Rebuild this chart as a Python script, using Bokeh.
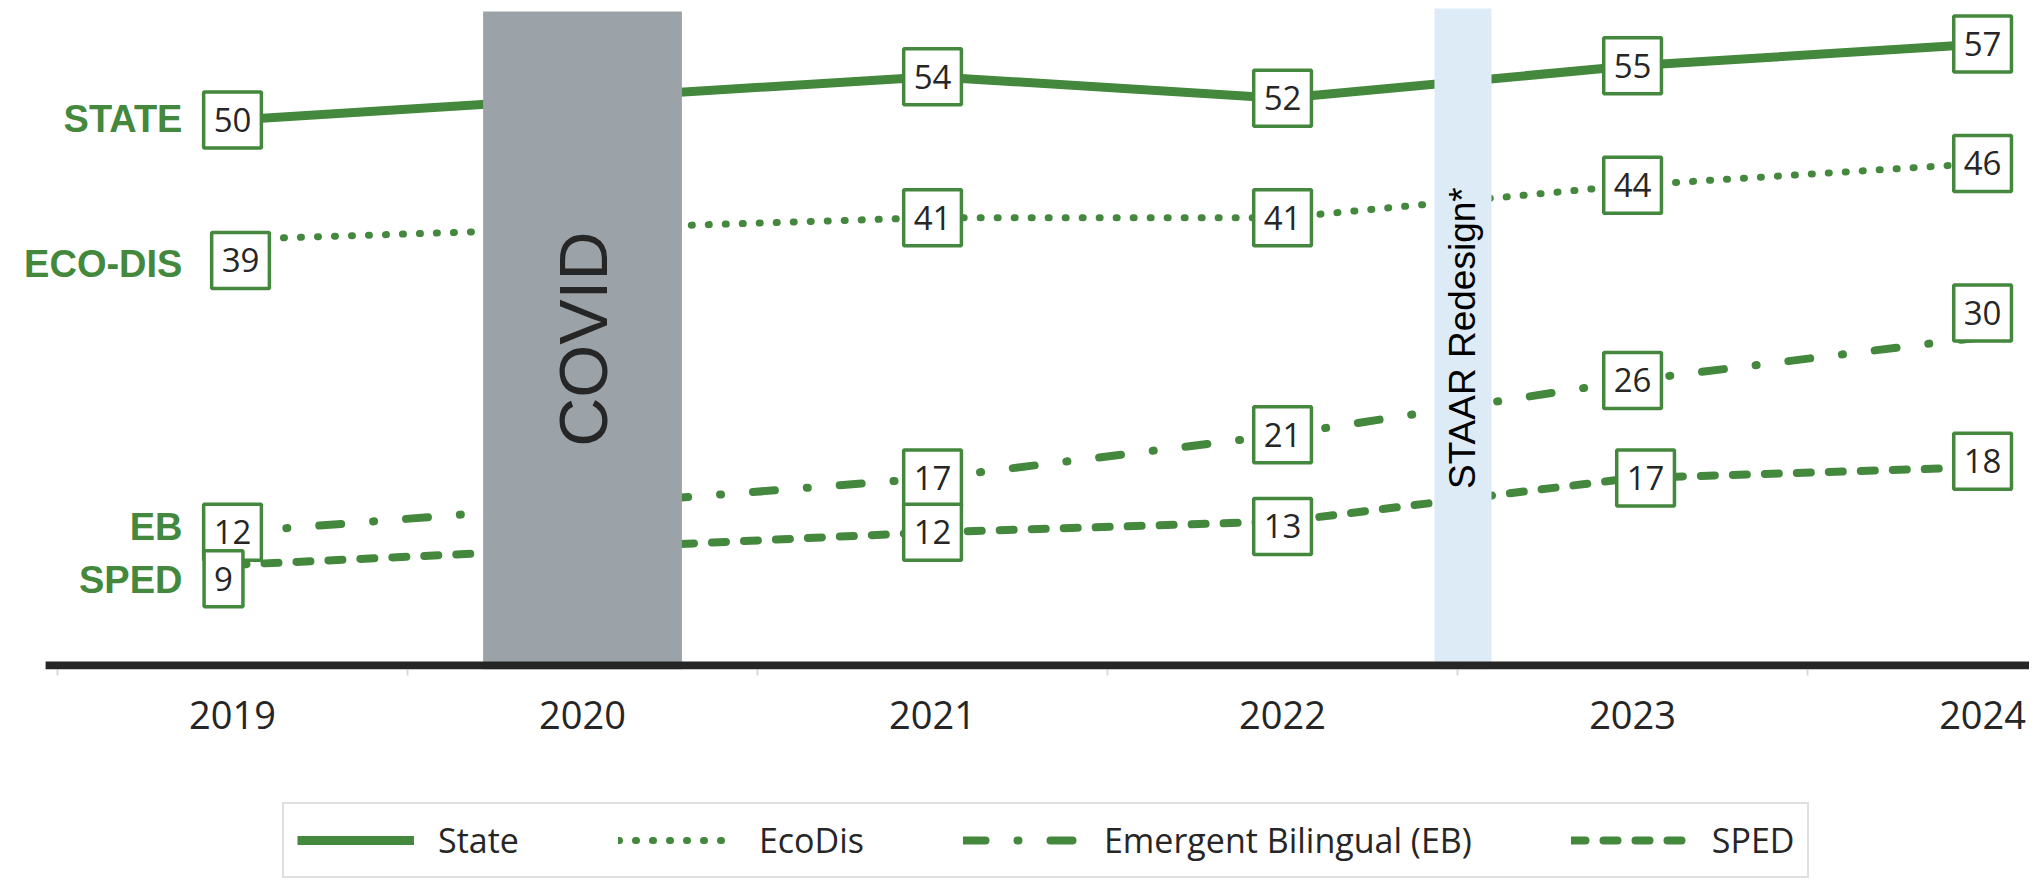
import math
from bokeh.plotting import figure
from bokeh.layouts import column
from bokeh.models import (Range1d, FixedTicker, BoxAnnotation, Legend, LegendItem, Label)
from bokeh.core.properties import value
from bokeh.embed import file_html
from bokeh.resources import INLINE

# ---------------- data ----------------
tick_years = [2019, 2020, 2021, 2022, 2023, 2024]
years = [2019, 2021, 2022, 2023, 2024]          # no 2020 data (COVID)
state = [50, 54, 52, 55, 57]
ecodis = [39, 41, 41, 44, 46]
eb = [12, 17, 21, 26, 30]
sped = [9, 12, 13, 17, 18]
series_names = ["State", "EcoDis", "Emergent Bilingual (EB)", "SPED"]
side_labels = ["STATE", "ECO-DIS", "EB", "SPED"]
event_names = ["COVID", "STAAR Redesign*"]
event_left = [2019.716, 2022.434]
event_right = [2020.284, 2022.597]

# ---------------- styling / placement ----------------
GREEN = "#43883D"
DARK = "#262626"
X0, X1 = 2018.36, 2024.134
Y0, Y1 = -0.645, 60.28
# pixel nudges for the value boxes (x, y; +y = down)
state_dx, state_dy = [0, 0, 0, 0, 0], [0, 0, 0, 0, 0]
eco_dx, eco_dy = [8, 0, 0, 0, 0], [21, 0, 0, 0, 0]
eb_dx, eb_dy = [0, 0, 0, 0, 0], [0, 0, 0, 0, -24]
sped_dx, sped_dy = [-9, 0, 0, 13, 0], [14, 0, 5, 0, -6]
side_label_x = 2018.857
side_label_y = [50.05, 36.7, 12.5, 7.6]

p = figure(width=2029, height=769,
           x_range=Range1d(X0, X1), y_range=Range1d(Y0, Y1),
           output_backend="svg", toolbar_location=None,
           y_axis_location=None,
           min_border_left=8, min_border_right=0,
           min_border_top=8, min_border_bottom=100)
p.outline_line_color = None
p.grid.visible = False

line_styles = [dict(line_width=9),
               dict(line_width=7, line_dash="1 16", line_cap="round"),
               dict(line_width=8, line_dash="22 32 1 32", line_cap="round"),
               dict(line_width=8, line_dash="14 18", line_cap="round")]
series = [state, ecodis, eb, sped]

# series lines
for vals, st in zip(series, line_styles):
    p.line(years, vals, line_color=GREEN, **st)

# event bands (drawn over the lines)
p.quad(left=[event_left[0]], right=[event_right[0]], bottom=[Y0], top=[60.0],
       fill_color="#9BA2A8", line_color=None)
p.quad(left=[event_left[1]], right=[event_right[1]], bottom=[Y0], top=[Y1 + 1],
       fill_color="#DDEBF7", line_color=None)

p.text(x=[(event_left[0] + event_right[0]) / 2], y=[29.8], text=[event_names[0]],
       angle=math.pi / 2, text_align="center", text_baseline="middle",
       text_font=value("Liberation Sans"), text_font_size="68px", text_color=DARK)
p.text(x=[(event_left[1] + event_right[1]) / 2], y=[29.9], text=[event_names[1]],
       angle=math.pi / 2, text_align="center", text_baseline="middle",
       text_font=value("Liberation Sans"), text_font_size="37px", text_color="black")

# value boxes
box_style = dict(text_font=value("Open Sans"), text_font_size="33px",
                 text_color=DARK, text_align="center", text_baseline="middle",
                 background_fill_color="white", border_line_color=GREEN,
                 border_line_width=3.5,
                 padding=dict(left=10, right=10, top=16, bottom=16))
for vals, dx, dy in [(state, state_dx, state_dy), (ecodis, eco_dx, eco_dy),
                     (eb, eb_dx, eb_dy), (sped, sped_dx, sped_dy)]:
    p.text(x=years, y=vals, text=[str(v) for v in vals],
           x_offset=dx, y_offset=dy, **box_style)

# side labels
for txt, yy in zip(side_labels, side_label_y):
    p.add_layout(Label(x=side_label_x, y=yy, text=txt,
                       text_align="right", text_baseline="middle",
                       text_font="Liberation Sans", text_font_style="bold",
                       text_font_size="38px", text_color=GREEN))

# thick black baseline
p.add_layout(BoxAnnotation(left=2018.466, right=X1, bottom=Y0, top=0.092,
                           fill_color=DARK, fill_alpha=1.0, line_color=None))

# x axis
ax = p.xaxis[0]
ax.ticker = FixedTicker(ticks=tick_years,
                        minor_ticks=[y - 0.5 for y in tick_years])
ax.axis_line_color = None
ax.major_tick_line_color = None
ax.minor_tick_line_color = "#D9D9D9"
ax.minor_tick_line_width = 2
ax.minor_tick_in = 0
ax.minor_tick_out = 6
ax.major_label_standoff = 25
ax.major_label_text_font = "Open Sans"
ax.major_label_text_font_size = "38px"
ax.major_label_text_color = DARK

# legend in its own strip below the chart (its lines lie outside its view)
lg = figure(width=2029, height=110, x_range=Range1d(0, 1), y_range=Range1d(0, 1),
            output_backend="svg", toolbar_location=None,
            x_axis_location=None, y_axis_location=None,
            min_border_left=0, min_border_right=0, min_border_top=0, min_border_bottom=0)
lg.outline_line_color = None
lg.grid.visible = False
legend_renderers = [lg.line(years, vals, line_color=GREEN, **st)
                    for vals, st in zip(series, line_styles)]
legend = Legend(items=[LegendItem(label=n, renderers=[r]) for n, r in
                       zip(series_names, legend_renderers)],
                orientation="horizontal", location=(274, 1),
                label_text_font="Open Sans", label_text_font_size="34px",
                label_text_color=DARK, glyph_width=117, glyph_height=20,
                label_standoff=24, spacing=99, padding=13, margin=0,
                border_line_color="#BFBFBF", border_line_width=2.5,
                background_fill_color="white")
lg.add_layout(legend, "center")

layout = column(p, lg, spacing=0)
open("out.html", "w").write(file_html(layout, INLINE))
